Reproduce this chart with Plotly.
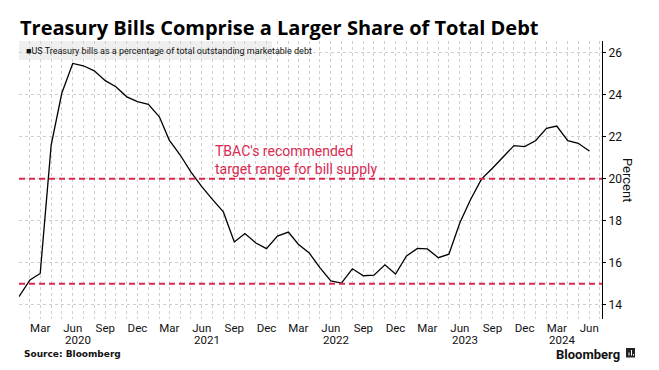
import plotly.graph_objects as go
import pandas as pd

dates = pd.date_range("2020-01-01", "2024-06-01", freq="MS")
bill_share = [
    14.38, 15.18, 15.49, 21.60, 24.07, 25.49, 25.38, 25.14, 24.67, 24.38, 23.90, 23.67,
    23.54, 22.95, 21.84, 21.13, 20.33, 19.62, 19.02, 18.42, 16.99, 17.39, 16.94, 16.67,
    17.27, 17.46, 16.88, 16.46, 15.77, 15.13, 15.03, 15.71, 15.38, 15.41, 15.90, 15.46,
    16.32, 16.68, 16.66, 16.24, 16.41, 17.90, 19.00, 19.98, 20.50, 21.04, 21.58, 21.53,
    21.81, 22.40, 22.51, 21.81, 21.69, 21.32,
]
target_low = 15
target_high = 20

tick_dates = pd.date_range("2020-03-01", "2024-06-01", freq="3MS")
tick_text = [d.strftime("%b") for d in tick_dates]
year_labels = ["2020", "2021", "2022", "2023", "2024"]
year_dates = ["2020-06-01", "2021-06-01", "2022-06-01", "2023-06-01", "2024-03-01"]

TITLE = "Treasury Bills Comprise a Larger Share of Total Debt"
SERIES = "US Treasury bills as a percentage of total outstanding marketable debt"
RED = "#d9294f"
FONT = "Roboto, Liberation Sans, sans-serif"
NARROW = "Liberation Sans Narrow, Roboto, sans-serif"

# page body has an 8px margin: figure is drawn 8px in from the top-left corner
W, H = 651, 362
ML, MR, MT, MB = 11, 57, 33, 51
PW, PH = W - ML - MR, H - MT - MB

def px_x(ax):  # absolute page x -> paper fraction
    return (ax - 8 - ML) / PW

def px_y(ay):  # absolute page y -> paper fraction
    return 1 - (ay - 8 - MT) / PH

fig = go.Figure()
fig.add_trace(go.Scatter(x=dates, y=bill_share, mode="lines",
                         line=dict(color="black", width=1.3), hoverinfo="x+y",
                         showlegend=False))

for lvl in (target_low, target_high):
    fig.add_shape(type="line", xref="paper", x0=0, x1=1, yref="y", y0=lvl, y1=lvl,
                  line=dict(color=RED, width=2, dash="6px,4px"), layer="above")

# legend box
fig.add_shape(type="rect", xref="paper", yref="paper", x0=0, x1=px_x(272), y0=px_y(60), y1=1.0,
              fillcolor="#efefef", line=dict(width=0), layer="below")
fig.add_annotation(xref="paper", yref="paper", x=px_x(24), y=px_y(51), xanchor="left", yanchor="middle",
                   text="■" + SERIES, showarrow=False,
                   font=dict(family=NARROW, size=9, color="#111"))

fig.add_annotation(xref="x", yref="y", x="2021-07-02", y=target_high, xanchor="left", yanchor="bottom",
                   text="TBAC's recommended<br>target range for bill supply", showarrow=False, align="left",
                   font=dict(family=FONT, size=14, color=RED))

for lab, d in zip(year_labels, year_dates):
    fig.add_annotation(xref="x", yref="paper", x=d, y=0, yshift=-20.5, xshift=5,
                       xanchor="center", yanchor="middle", text=lab, showarrow=False,
                       borderpad=0, font=dict(family=FONT, size=11.5, color="#111"))

fig.add_annotation(xref="paper", yref="paper", x=1, xshift=26, y=0.5,
                   xanchor="center", yanchor="middle",
                   text="Percent", textangle=90, showarrow=False,
                   font=dict(family=FONT, size=13, color="#111"))

fig.add_annotation(xref="paper", yref="paper", x=px_x(22), y=px_y(354.3),
                   xanchor="left", yanchor="middle", text="<b>Source: Bloomberg</b>", showarrow=False,
                   font=dict(family="DejaVu Sans", size=9, color="#111"))

fig.add_annotation(xref="paper", yref="paper", x=px_x(621), y=px_y(354),
                   xanchor="right", yanchor="middle", text="<b>Bloomberg</b>", showarrow=False,
                   borderpad=0, font=dict(family=FONT, size=13, color="#111"))
# logo mark
fig.add_shape(type="rect", xref="paper", yref="paper", x0=px_x(626), x1=px_x(635),
              y0=px_y(357.5), y1=px_y(348), fillcolor="#222", line=dict(width=0))
for bx, top in ((628.5, 352.5), (631, 350), (633, 354)):
    fig.add_shape(type="rect", xref="paper", yref="paper", x0=px_x(bx), x1=px_x(bx + 1),
                  y0=px_y(355.5), y1=px_y(top), fillcolor="white", line=dict(width=0))

fig.update_layout(
    width=W, height=H,
    margin=dict(l=ML, r=MR, t=MT, b=MB, pad=0),
    paper_bgcolor="white", plot_bgcolor="white",
    font=dict(family=FONT, color="#111"),
    title=dict(text="<b>" + TITLE + "</b>", x=12 / W, xanchor="left", xref="container",
               y=0.944, yanchor="middle", font=dict(family="Open Sans", size=20, color="black")),
    xaxis=dict(type="date", range=["2020-01-01", "2024-07-07"],
               tickmode="array", tickvals=tick_dates, ticktext=tick_text,
               ticks="", showline=False, zeroline=False,
               showgrid=True, gridcolor="#cfcfcf", griddash="dot", gridwidth=1,
               minor=dict(tick0="2020-01-01", dtick="M1", showgrid=True,
                          gridcolor="#cfcfcf", griddash="dot", gridwidth=1),
               tickfont=dict(size=11.5, color="#111")),
    yaxis=dict(side="right", range=[13.32, 26.56], tickmode="linear", tick0=14, dtick=2,
               showline=True, linecolor="black", linewidth=1,
               ticks="outside", ticklen=3, tickcolor="black",
               showgrid=True, gridcolor="#cfcfcf", griddash="dot", gridwidth=1,
               zeroline=False, tickfont=dict(size=12, color="#111")),
)

fig.write_html("out.html")
